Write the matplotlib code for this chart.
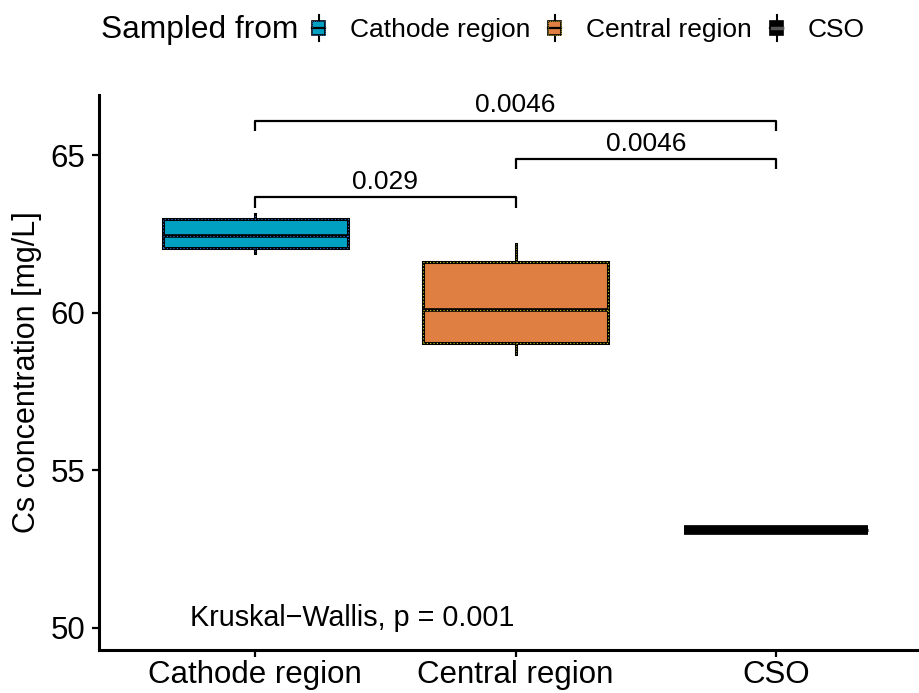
import matplotlib
matplotlib.use("Agg")
import matplotlib.pyplot as plt
from matplotlib.legend_handler import HandlerBase
from matplotlib.patches import Rectangle
from matplotlib.lines import Line2D

plt.rcParams['font.family'] = ['Liberation Sans', 'DejaVu Sans']

# ---- data ----
groups = ["Cathode region", "Central region", "CSO"]
q1 = [62.04, 59.04, 53.10]
medians = [62.45, 60.08, 53.10]
q3 = [62.99, 61.62, 53.10]
whis_lo = [61.90, 58.70, 53.10]
whis_hi = [63.15, 62.17, 53.10]
fill_colors = ["#00A0C3", "#DF7F41", "#000000"]
dot_colors = ["#2a6fd6", "#d6d21e", "#000000"]

comparisons = [(0, 1, 63.66, "0.029"), (1, 2, 64.87, "0.0046"), (0, 2, 66.08, "0.0046")]
kw_text = "Kruskal\u2212Wallis, p = 0.001"
y_ticks = [50, 55, 60, 65]

fig = plt.figure(figsize=(9.2, 6.93), dpi=100)
ax = fig.add_axes([99/920, 1 - 650/693, 1 - 99/920, (650 - 95)/693])

for i in range(len(groups)):
    st = [dict(med=medians[i], q1=q1[i], q3=q3[i], whislo=whis_lo[i], whishi=whis_hi[i], fliers=[])]
    is_cso = groups[i] == "CSO"
    ax.bxp(st, positions=[i], widths=0.71, showcaps=False, showfliers=False, patch_artist=True,
           boxprops=dict(facecolor=fill_colors[i], edgecolor="black", linewidth=2.2),
           medianprops=dict(color="black", linewidth=7 if is_cso else 2.6, solid_capstyle="butt"),
           whiskerprops=dict(color="black", linewidth=2.2))
    if not is_cso:
        ax.bxp(st, positions=[i], widths=0.71, showcaps=False, showfliers=False, patch_artist=True,
               boxprops=dict(facecolor="none", edgecolor=dot_colors[i], linewidth=0.8, linestyle=(0, (1, 2))),
               medianprops=dict(color=dot_colors[i], linewidth=0.8, linestyle=(0, (1, 2))),
               whiskerprops=dict(color=dot_colors[i], linewidth=0.6, linestyle=(0, (1, 2))))

tip = 0.32
for a, b, y, lab in comparisons:
    ax.plot([a, a, b, b], [y - tip, y, y, y - tip], color="black", lw=1.6, solid_capstyle="butt")
    ax.text((a + b) / 2, y + 0.12, lab, ha="center", va="bottom", fontsize=19)

ax.text(-0.25, 50.05, kw_text, ha="left", va="baseline", fontsize=20.7)

ax.set_xlim(-0.6, (920 - 255) / 260.5)
ax.set_ylim(49.30, 66.91)
ax.set_xticks(range(len(groups)))
ax.set_xticklabels(groups)
ax.set_yticks(y_ticks)
ax.tick_params(axis="both", labelsize=22.5, length=5, width=1.6, colors="black")
ax.tick_params(axis="y", pad=5)
ax.tick_params(axis="x", pad=2)
for s in ["top", "right"]:
    ax.spines[s].set_visible(False)
for s in ["left", "bottom"]:
    ax.spines[s].set_linewidth(2.2)
ax.set_ylabel("Cs concentration [mg/L]", fontsize=22, labelpad=6)


class BoxKeyHandler(HandlerBase):
    def __init__(self, fc, dc):
        super().__init__()
        self.fc = fc
        self.dc = dc

    def create_artists(self, legend, orig_handle, xdescent, ydescent, width, height, fontsize, trans):
        cx = -xdescent + width / 2
        bw = width * 0.75
        h = height * 1.3
        y0 = -ydescent + (height - h) / 2
        bl = y0 + h * 0.22
        bh = h * 0.56
        arts = []
        arts.append(Line2D([cx, cx], [y0, y0 + h], color="black", lw=1.5, transform=trans))
        arts.append(Rectangle((cx - bw / 2, bl), bw, bh, facecolor=self.fc, edgecolor="black", lw=1.2, transform=trans))
        arts.append(Line2D([cx - bw / 2, cx + bw / 2], [bl + bh / 2, bl + bh / 2], color="black", lw=1.6, transform=trans))
        if self.fc != "#000000":
            arts.append(Rectangle((cx - bw / 2, bl), bw, bh, facecolor="none", edgecolor=self.dc, lw=0.6,
                                  linestyle=(0, (1, 1.5)), transform=trans))
        else:
            arts.append(Line2D([cx - bw / 2 + 1, cx + bw / 2 - 1], [bl + bh / 2, bl + bh / 2], color="#555555", lw=2.5, transform=trans))
        return arts


handles = [Rectangle((0, 0), 1, 1) for _ in groups]
hmap = {h: BoxKeyHandler(fill_colors[i], dot_colors[i]) for i, h in enumerate(handles)}
fig.text(101 / 920, 1 - 30 / 693, "Sampled from", fontsize=22.8, ha="left", va="center")
leg = fig.legend(handles, groups, handler_map=hmap, loc="center left", bbox_to_anchor=(310 / 920, 1 - 30 / 693),
                 ncol=3, frameon=False, fontsize=19, handlelength=0.65, handleheight=0.8,
                 handletextpad=0.85, columnspacing=0.62, borderaxespad=0, borderpad=0)

fig.savefig("out.png", dpi=100)
